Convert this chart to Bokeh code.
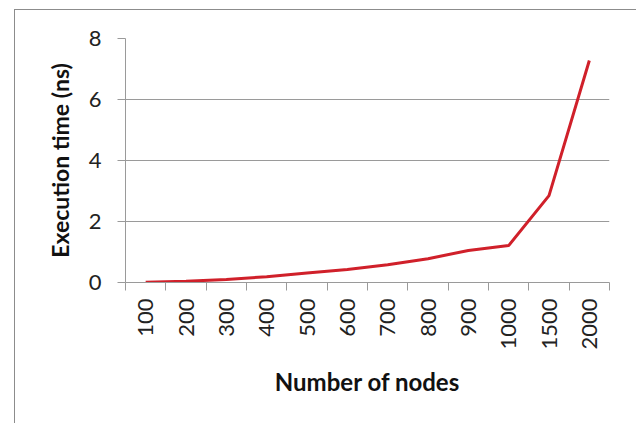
import numpy as np
from bokeh.plotting import figure
from bokeh.models import Range1d, FixedTicker
from bokeh.embed import file_html
from bokeh.resources import INLINE

nodes = ["100", "200", "300", "400", "500", "600", "700", "800", "900", "1000", "1500", "2000"]
exec_time = [0.01, 0.04, 0.10, 0.19, 0.31, 0.43, 0.58, 0.78, 1.05, 1.21, 2.85, 7.28]
y_ticks = [0, 2, 4, 6, 8]

n = len(nodes)
xpos = [float(v) for v in np.arange(n) + 0.5]
bounds = [float(v) for v in range(n + 1)]

FONT = "Lato"
GRID = "#9a9a9a"

p = figure(width=622, height=414, output_backend="svg", toolbar_location=None,
           x_range=Range1d(0, n), y_range=Range1d(0, 8),
           min_border_left=110, min_border_right=28, min_border_top=28, min_border_bottom=142,
           margin=(9, 0, 0, 14),
           styles={"border-left": "1px solid #8c8c8c", "border-top": "1px solid #8c8c8c"})
p.outline_line_color = None
p.background_fill_color = "white"
p.border_fill_color = "white"

p.xgrid.visible = False
p.ygrid.ticker = FixedTicker(ticks=y_ticks)
p.ygrid.grid_line_color = GRID
p.ygrid.grid_line_width = 1

# y axis
ya = p.yaxis[0]
ya.ticker = FixedTicker(ticks=y_ticks)
ya.axis_line_color = GRID
ya.major_tick_line_color = GRID
ya.major_tick_out = 8
ya.major_tick_in = 0
ya.minor_tick_line_color = None
ya.major_label_text_font = FONT
ya.major_label_text_font_size = "22px"
ya.major_label_text_color = "#222222"
ya.major_label_standoff = 16
ya.axis_label = "Execution time (ns)"
ya.axis_label_text_font = FONT
ya.axis_label_text_font_style = "bold"
ya.axis_label_text_font_size = "23px"
ya.axis_label_text_color = "#111111"
ya.axis_label_standoff = 12

# x axis: labels at category centres, tick marks at category boundaries
xa = p.xaxis[0]
xa.ticker = FixedTicker(ticks=xpos, minor_ticks=bounds)
xa.major_label_overrides = {x: lab for x, lab in zip(xpos, nodes)}
xa.axis_line_color = GRID
xa.major_tick_line_color = None
xa.major_tick_out = 8
xa.major_tick_in = 0
xa.minor_tick_line_color = GRID
xa.minor_tick_out = 8
xa.minor_tick_in = 0
xa.major_label_orientation = np.pi / 2
xa.major_label_text_font = FONT
xa.major_label_text_font_size = "22px"
xa.major_label_text_color = "#222222"
xa.major_label_standoff = 8
xa.axis_label = "Number of nodes"
xa.axis_label_text_font = FONT
xa.axis_label_text_font_style = "bold"
xa.axis_label_text_font_size = "24px"
xa.axis_label_text_color = "#111111"
xa.axis_label_standoff = 14

p.line(xpos, exec_time, line_color="#d0202a", line_width=3)

open("out.html", "w").write(file_html(p, INLINE))
